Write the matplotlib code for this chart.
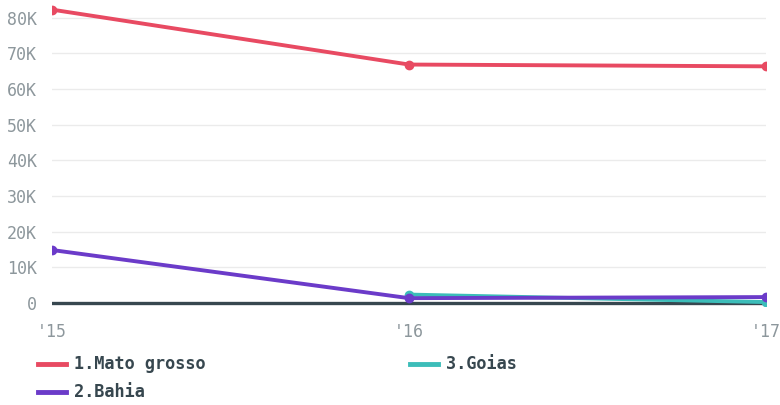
import matplotlib
matplotlib.use("Agg")
import matplotlib.pyplot as plt
from matplotlib.lines import Line2D

years = ["'15", "'16", "'17"]
mato_grosso = [82300, 66900, 66400]
bahia = [14900, 1400, 1700]
goias = [None, 2400, 300]
y_ticks = [0, 10000, 20000, 30000, 40000, 50000, 60000, 70000, 80000]
y_tick_labels = ["0", "10K", "20K", "30K", "40K", "50K", "60K", "70K", "80K"]
series_names = ["1.Mato grosso", "2.Bahia", "3.Goias"]

c_red = "#e84a62"
c_purple = "#6b3bc9"
c_teal = "#3cbdb9"
c_dark = "#37474f"
c_gray = "#8d979c"

fig = plt.figure(figsize=(7.8, 4.05), dpi=100)
ax = fig.add_axes([52/780, 1 - 306/405, (766-52)/780, 306/405])

x = [0, 1, 2]
ax.axhline(0, color=c_dark, lw=2.4, zorder=2)
ax.plot(x, mato_grosso, color=c_red, lw=2.8, marker="o", ms=6, zorder=4)
gx = [i for i, v in zip(x, goias) if v is not None]
gy = [v for v in goias if v is not None]
ax.plot(gx, gy, color=c_teal, lw=2.8, marker="o", ms=6, zorder=3)
ax.plot(x, bahia, color=c_purple, lw=2.8, marker="o", ms=6, zorder=5)

ax.set_xlim(0, 2)
ax.set_ylim(-800, 85000)
ax.set_yticks(y_ticks)
ax.set_yticklabels(y_tick_labels)
ax.set_xticks(x)
ax.set_xticklabels(years)
ax.grid(axis="y", color="#ebebeb", lw=1, zorder=0)
for s in ax.spines.values():
    s.set_visible(False)
ax.tick_params(axis="both", length=0, colors=c_gray, labelsize=12)
ax.tick_params(axis="y", pad=11)
ax.tick_params(axis="x", pad=12)
for lab in ax.get_xticklabels() + ax.get_yticklabels():
    lab.set_family("DejaVu Sans Mono")
    lab.set_color(c_gray)

legfont = dict(family="DejaVu Sans Mono", weight="bold", size=12.2, color="#37474f")
legend_items = [(series_names[0], c_red, 38, 364),
                (series_names[1], c_purple, 38, 392),
                (series_names[2], c_teal, 410, 364)]
for name, col, px, py in legend_items:
    yf = 1 - py/405
    fig.add_artist(Line2D([px/780, (px+28)/780], [yf, yf], color=col, lw=3.5,
                          transform=fig.transFigure))
    fig.text((px+36)/780, yf, name, va="center", ha="left", **legfont)

fig.savefig("out.png", dpi=100)
